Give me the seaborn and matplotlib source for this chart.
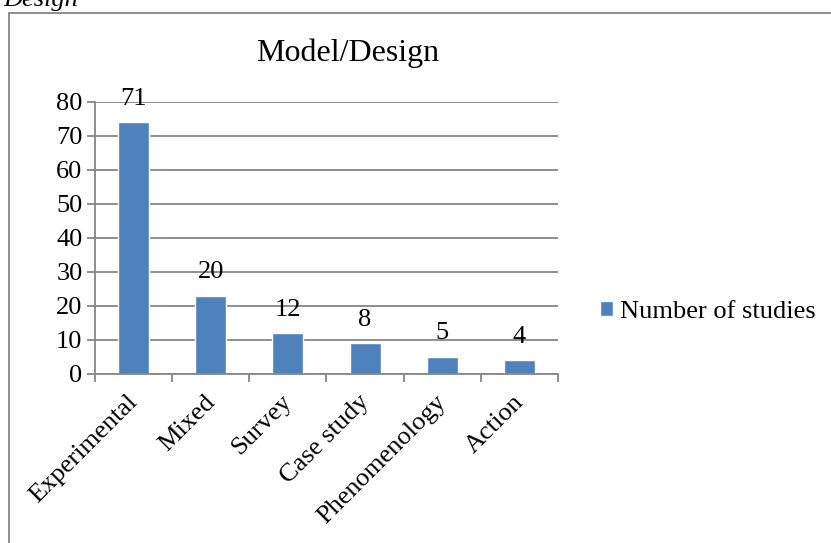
import matplotlib
matplotlib.use("Agg")
import matplotlib.pyplot as plt
import matplotlib.patches as patches
import matplotlib.transforms as mtransforms
import seaborn as sns
import pandas as pd
import numpy as np

# Data
categories = ["Experimental", "Mixed", "Survey", "Case study", "Phenomenology", "Action"]
bar_heights = [74, 23, 12, 9, 5, 4]
bar_labels = ["71", "20", "12", "8", "5", "4"]
y_ticks = [0, 10, 20, 30, 40, 50, 60, 70, 80]

df = pd.DataFrame({"Design": categories, "Number of studies": bar_heights})

sns.set_theme(style="white")
plt.rcParams["font.family"] = ["Liberation Serif", "DejaVu Serif"]
plt.rcParams["text.color"] = "black"

bar_color = "#4F81BD"
grey = "#868686"
fs = 19

fig = plt.figure(figsize=(8.31, 5.43), dpi=100)
W, H = 831, 543
ax = fig.add_axes([95 / W, 1 - 374 / H, (558 - 95) / W, (374 - 102) / H])

sns.barplot(data=df, x="Design", y="Number of studies", color=bar_color,
            width=0.4, saturation=1, label="Number of studies", ax=ax)

ax.set_xlim(-0.5, len(categories) - 0.5)
ax.set_ylim(0, 80)
ax.set_yticks(y_ticks)
ax.set_xlabel("")
ax.set_ylabel("")

# grid and axes
ax.yaxis.grid(True, color=grey, linewidth=1.3)
ax.set_axisbelow(True)
for side in ["top", "right"]:
    ax.spines[side].set_visible(False)
for side in ["left", "bottom"]:
    ax.spines[side].set_color(grey)
    ax.spines[side].set_linewidth(1.3)

ax.tick_params(axis="y", length=6, width=1.3, color=grey, labelsize=fs,
               labelcolor="black", pad=3, direction="out", left=True)
ax.set_xticks(np.arange(len(categories)))
ax.set_xticklabels(categories, rotation=45, ha="right", rotation_mode="anchor",
                   fontsize=fs, color="black")
ax.tick_params(axis="x", which="major", length=0, pad=12)
shift = mtransforms.ScaledTranslation(-7 / 100, 0, fig.dpi_scale_trans)
for lab in ax.get_xticklabels():
    lab.set_transform(lab.get_transform() + shift)
ax.set_xticks(np.arange(len(categories) + 1) - 0.5, minor=True)
ax.tick_params(axis="x", which="minor", length=6, width=1.3, color=grey,
               direction="out", bottom=True)

# value labels
for i, (h, lab) in enumerate(zip(bar_heights, bar_labels)):
    ax.annotate(lab, (i, h), xytext=(0, 17), textcoords="offset points",
                ha="center", va="center", fontsize=fs)

fig.text(348 / W, 1 - 53 / H, "Model/Design", ha="center", va="center", fontsize=23)

leg = ax.legend(loc="center left", bbox_to_anchor=(600 / W, 1 - 312 / H),
                bbox_transform=fig.transFigure, frameon=False, fontsize=fs,
                handlelength=0.5, handleheight=0.5, handletextpad=0.25,
                borderaxespad=0, borderpad=0)

# outer chart frame and the clipped caption at the top-left
frame = patches.Rectangle((9 / W, -0.1), 1.1, 1 - 13 / H + 0.1,
                          transform=fig.transFigure, fill=False,
                          edgecolor=grey, linewidth=1.3, clip_on=False)
fig.patches.append(frame)
fig.text(78 / W, 1 - 6 / H, "Design", ha="right", va="baseline",
         fontsize=fs, style="italic")

fig.savefig("out.png", dpi=100)
